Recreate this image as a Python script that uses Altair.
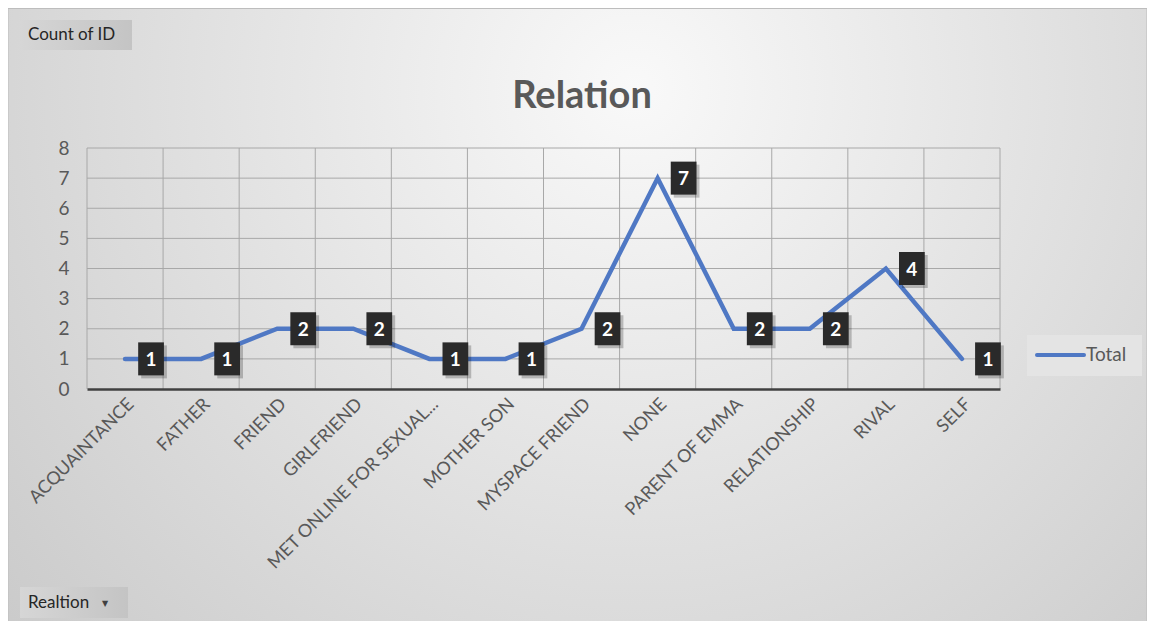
import altair as alt
import pandas as pd

categories = ["ACQUAINTANCE", "FATHER", "FRIEND", "GIRLFRIEND", "MET ONLINE FOR SEXUAL...",
              "MOTHER SON", "MYSPACE FRIEND", "NONE", "PARENT OF EMMA", "RELATIONSHIP",
              "RIVAL", "SELF"]
counts = [1, 1, 2, 2, 1, 1, 2, 7, 2, 2, 4, 1]
series_name = "Total"
y_ticks = [0, 1, 2, 3, 4, 5, 6, 7, 8]
chart_title = "Relation"
value_button = "Count of ID"
axis_button = "Realtion"

FONT = "Lato"
TXT = "#595959"
GRID = "#a8a8a8"
LINE = "#4f78c4"
W, H = 913, 241
PL, PT, PR, PB = 79, 140, 147, 232

df = pd.DataFrame({"cat": categories, "count": counts, "series": [series_name] * len(categories)})
one = alt.Data(values=[{"a": 1}])

xscale = alt.Scale(type="band", domain=categories, paddingInner=0, paddingOuter=0)
yscale = alt.Scale(domain=[0, 8], nice=False, zero=True)

x_axis = alt.Axis(title=None, labelAngle=315, labelFont=FONT, labelFontSize=18,
                  labelColor=TXT, ticks=False, grid=False, domain=True,
                  domainColor="#404040", domainWidth=2.5, labelPadding=6,
                  labelLimit=400, zindex=1)
y_axis = alt.Axis(title=None, values=y_ticks, grid=False, domain=False, ticks=False,
                  labelFont=FONT, labelFontSize=19, labelColor=TXT, labelPadding=18, zindex=1)

bg = alt.Chart(one).mark_rect(
    fill={"gradient": "radial", "x1": 0.55, "y1": 0.3, "r1": 0.0,
          "x2": 0.55, "y2": 0.3, "r2": 0.75,
          "stops": [{"offset": 0, "color": "#f9f9f9"}, {"offset": 1, "color": "#c9c9c9"}]},
    stroke="#bdbdbd", strokeWidth=1,
).encode(x=alt.value(-PL), x2=alt.value(W + PR), y=alt.value(-PT + 0.5), y2=alt.value(H + PB + 5))

btn_style = {"gradient": "linear", "x1": 0, "y1": 0, "x2": 1, "y2": 0,
             "stops": [{"offset": 0, "color": "#d6d6d6"}, {"offset": 1, "color": "#c4c4c4"}]}
btn1 = alt.Chart(one).mark_rect(fill=btn_style).encode(
    x=alt.value(-67), x2=alt.value(45), y=alt.value(-128), y2=alt.value(-98))
btn1_t = alt.Chart(one).mark_text(align="left", baseline="middle", font=FONT, fontSize=17,
                                  color="#262626").encode(
    x=alt.value(-59), y=alt.value(-113), text=alt.value(value_button))
btn2 = alt.Chart(one).mark_rect(fill=btn_style).encode(
    x=alt.value(-67), x2=alt.value(41), y=alt.value(439), y2=alt.value(470))
btn2_t = alt.Chart(one).mark_text(align="left", baseline="middle", font=FONT, fontSize=17,
                                  color="#262626").encode(
    x=alt.value(-59), y=alt.value(455), text=alt.value(axis_button))
btn2_a = alt.Chart(one).mark_text(align="center", baseline="middle", font="DejaVu Sans", fontSize=8,
                                  color="#404040").encode(
    x=alt.value(18), y=alt.value(456), text=alt.value("▼"))

title = alt.Chart(one).mark_text(align="center", baseline="middle", font=FONT, fontSize=38,
                                 fontWeight="bold", color=TXT).encode(
    x=alt.value(495), y=alt.value(-51), text=alt.value(chart_title))

# legend (drawn by hand so the box keeps Excel's proportions)
leg_df = pd.DataFrame({"series": [series_name]})
leg_box = alt.Chart(leg_df).mark_rect(color="#e4e4e4").encode(
    x=alt.value(940), x2=alt.value(1055), y=alt.value(187), y2=alt.value(228))
leg_line = alt.Chart(leg_df).mark_rule(color=LINE, strokeWidth=4, strokeCap="round").encode(
    x=alt.value(950), x2=alt.value(997), y=alt.value(207))
leg_text = alt.Chart(leg_df).mark_text(align="left", baseline="middle", font=FONT, fontSize=19,
                                       color=TXT).encode(
    x=alt.value(999), y=alt.value(207), text="series:N")

hgrid = alt.Chart(pd.DataFrame({"count": y_ticks[1:]})).mark_rule(color=GRID, strokeWidth=1).encode(
    y=alt.Y("count:Q", scale=yscale, axis=y_axis))
vgrid = alt.Chart(df).mark_rule(color=GRID, strokeWidth=1).encode(
    x=alt.X("cat:N", scale=xscale, bandPosition=0, axis=x_axis))
vgrid_end = alt.Chart(df.tail(1)).mark_rule(color=GRID, strokeWidth=1).encode(
    x=alt.X("cat:N", scale=xscale, bandPosition=1, axis=x_axis))

x_enc = alt.X("cat:N", scale=xscale, bandPosition=0.5, axis=x_axis)
y_enc = alt.Y("count:Q", scale=yscale, axis=y_axis)

line = alt.Chart(df).mark_line(strokeWidth=4.5, strokeCap="round", strokeJoin="miter",
                               color=LINE).encode(x=x_enc, y=y_enc)

box_path = "M-0.78,-1L0.78,-1L0.78,1L-0.78,1Z"
shadow = alt.Chart(df).mark_point(shape=box_path, size=1089, filled=True, color="#000000",
                                  opacity=0.22, xOffset=29, yOffset=3).encode(x=x_enc, y=y_enc)
boxes = alt.Chart(df).mark_point(shape=box_path, size=1089, filled=True, color="#2a2a2a",
                                 opacity=1, xOffset=26).encode(x=x_enc, y=y_enc)
labels = alt.Chart(df).mark_text(color="white", font=FONT, fontWeight="bold", fontSize=19,
                                 xOffset=26, yOffset=1).encode(x=x_enc, y=y_enc, text="count:Q")

chart = alt.layer(bg, btn1, btn1_t, btn2, btn2_t, btn2_a, title, leg_box, leg_line, leg_text,
                  hgrid, vgrid, vgrid_end, line, shadow, boxes, labels).properties(
    width=W, height=H,
    autosize=alt.AutoSizeParams(type="none"),
    padding={"left": PL, "top": PT, "right": PR, "bottom": PB},
).configure_view(stroke=None).configure(background="white")

chart.save("out.html", embed_options={"renderer": "svg", "actions": False})
